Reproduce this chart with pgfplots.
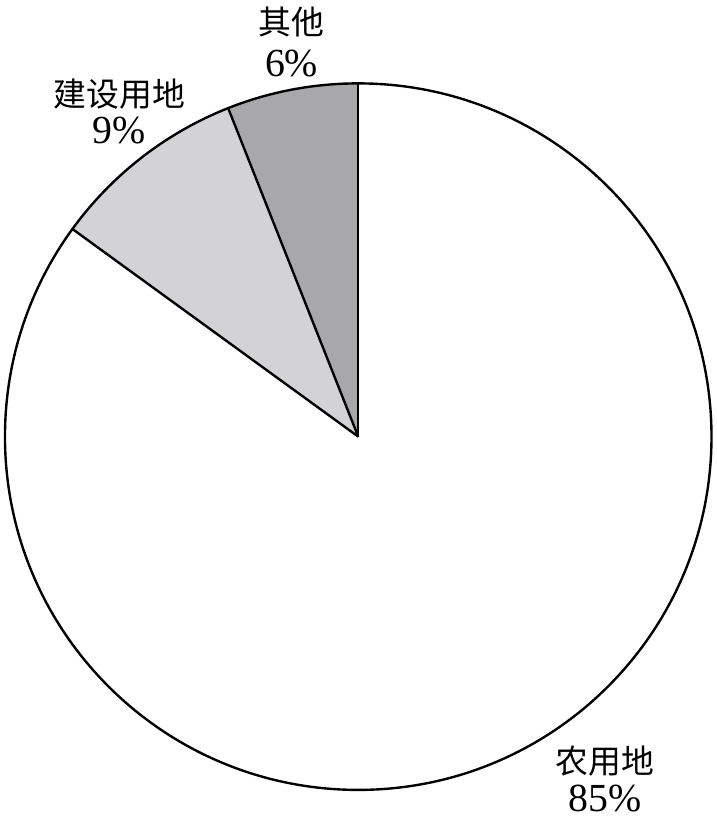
\documentclass[border=0pt]{standalone}
\usepackage{pgfplots}
\usepackage{pgfplotstable}
\pgfplotsset{compat=1.18}
\usepackage{fontspec}
\setmainfont{Liberation Serif}
\newfontfamily\cjk{Noto Sans CJK SC}

\definecolor{otherGray}{RGB}{168,168,170}
\definecolor{buildGray}{RGB}{211,211,213}

% shares in percent, counter-clockwise from the top
\pgfplotstableread{
value
6
9
85
}\piedata

\pgfplotstablegetelem{0}{value}\of\piedata \let\vA\pgfplotsretval
\pgfplotstablegetelem{1}{value}\of\piedata \let\vB\pgfplotsretval
\pgfmathsetmacro{\angA}{90+3.6*\vA}
\pgfmathsetmacro{\angB}{\angA+3.6*\vB}

\begin{document}
\begin{tikzpicture}
\begin{axis}[
    hide axis, scale only axis,
    width=360pt, height=409.5pt,
    xmin=0, xmax=720, ymin=0, ymax=819,
    clip=false,
]
% keep the whole frame as the picture's size
\path (axis cs:0,0) rectangle (axis cs:720,819);
\def\r{177.5pt}
\fill[white] (axis cs:360,382) circle[radius=\r];
\fill[otherGray] (axis cs:360,382) -- ++(90:\r) arc[start angle=90, end angle=\angA, radius=\r] -- cycle;
\fill[buildGray] (axis cs:360,382) -- ++(\angA:\r) arc[start angle=\angA, end angle=\angB, radius=\r] -- cycle;
\draw[line width=1.2pt] (axis cs:360,382) circle[radius=\r];
\draw[line width=1.2pt] (axis cs:360,382) -- ++(90:\r);
\draw[line width=1.2pt] (axis cs:360,382) -- ++(\angA:\r);
\draw[line width=1.2pt] (axis cs:360,382) -- ++(\angB:\r);

\node[font=\fontsize{16.5}{18}\cjk] at (axis cs:293,799) {其他};
\node[font=\fontsize{20}{22}\selectfont] at (axis cs:293,757) {6\%};
\node[font=\fontsize{16.5}{18}\cjk] at (axis cs:120,726) {建设用地};
\node[font=\fontsize{20}{22}\selectfont] at (axis cs:120,690) {9\%};
\node[font=\fontsize{16.5}{18}\cjk] at (axis cs:608,56) {农用地};
\node[font=\fontsize{20}{22}\selectfont] at (axis cs:608,18) {85\%};
\end{axis}
\end{tikzpicture}
\end{document}
